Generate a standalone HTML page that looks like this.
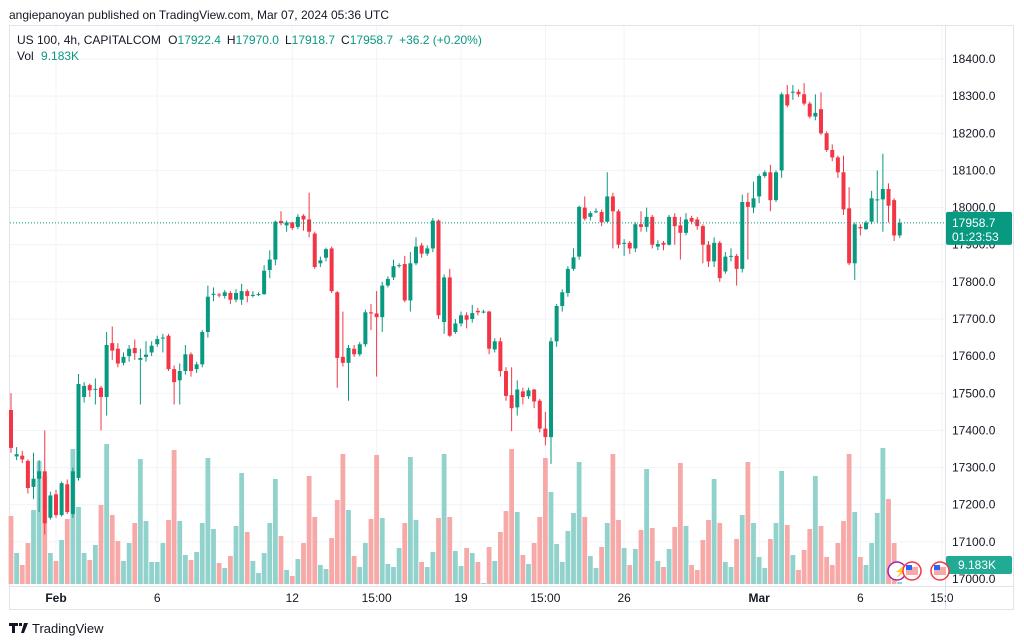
<!DOCTYPE html>
<html><head><meta charset="utf-8"><style>
body{margin:0;width:1024px;height:643px;background:#fff;overflow:hidden;font-family:"Liberation Sans",sans-serif}
</style></head><body>
<svg id="c" width="1024" height="643" xmlns="http://www.w3.org/2000/svg" style="position:absolute;left:0;top:0">
<text x="9" y="19" font-size="12" fill="#131722">angiepanoyan published on TradingView.com, Mar 07, 2024 05:36 UTC</text>
<rect x="9.5" y="25.5" width="1004" height="584" fill="none" stroke="#e0e3eb"/>
<g id="grid"></g>
<g id="vol"></g>
<g id="candles"></g>
<g id="axis"></g>
<g id="taxis"></g>
<text x="17" y="44" font-size="12" fill="#131722">US 100, 4h, CAPITALCOM <tspan dx="4">O</tspan><tspan fill="#089981">17922.4</tspan><tspan dx="6">H</tspan><tspan fill="#089981">17970.0</tspan><tspan dx="6">L</tspan><tspan fill="#089981">17918.7</tspan><tspan dx="6">C</tspan><tspan fill="#089981">17958.7</tspan><tspan dx="6" fill="#089981">+36.2 (+0.20%)</tspan></text>
<text x="17" y="60" font-size="12" fill="#131722">Vol <tspan dx="4" fill="#089981">9.183K</tspan></text>
<g><path d="M9 623h9v3h-3v7h-3v-7h-3z M19 623h3v3h-3z M24 623h4l-4 10h-3z" fill="#131722"/><text x="32" y="633" font-size="13" fill="#131722">TradingView</text></g>
</svg>
<script>
const opens=[17455,17330,17332,17318,17248,17270,17290,17165,17228,17172,17255,17175,17272,17490,17522,17510,17515,17490,17635,17620,17582,17600,17622,17590,17598,17610,17632,17650,17655,17565,17535,17560,17605,17565,17578,17665,17765,17766,17762,17770,17752,
17752,17775,17762,17765,17767,17832,17860,17964,17952,17960,17948,17978,17968,17930,17850,17865,17890,17772,17598,17582,17620,17605,17632,17718,17715,17705,17790,17812,17845,17848,17750,17850,17898,17876,17890,17965,17692,17812,17665,17688,17710,17700,
17722,17720,17720,17618,17640,17560,17495,17462,17505,17492,17510,17480,17405,17382,17640,17735,17770,17835,17868,18000,17975,17988,17988,17962,18030,17990,17905,17905,17890,17955,17948,17975,17895,17905,17900,17975,17952,17932,17972,
17968,17950,17900,17855,17905,17828,17868,17870,17835,18015,18000,18030,18085,18095,18020,18100,18305,18310,18312,18305,18280,18245,18265,18200,18155,18135,18095,17998,17850,17948,17942,17962,18020,18022,18050,18020,17925];
const closes=[17353,17336,17322,17245,17270,17290,17150,17225,17172,17258,17180,17290,17525,17520,17508,17512,17490,17630,17615,17580,17598,17620,17608,17595,17604,17628,17646,17650,17565,17530,17560,17605,17560,17578,17665,17760,17768,17765,17772,17752,17770,
17775,17762,17765,17767,17830,17860,17962,17958,17960,17945,17975,17968,17935,17840,17858,17888,17775,17595,17582,17622,17605,17632,17718,17715,17705,17790,17808,17842,17845,17750,17850,17895,17876,17890,17965,17710,17812,17655,17688,17710,17698,17716,
17718,17720,17620,17640,17560,17493,17460,17510,17490,17508,17478,17405,17382,17640,17735,17772,17835,17866,18002,17970,17985,17990,17960,18030,17990,17900,17905,17890,17955,17948,17975,17900,17902,17900,17975,17950,17932,17968,17962,
17950,17900,17855,17905,17810,17868,17870,17835,18015,18002,18025,18085,18095,18020,18095,18305,18275,18312,18305,18280,18245,18255,18200,18155,18135,18095,17995,17850,17955,17944,17960,18025,18022,18050,18005,17925,17958.7];
const highs=[17500,17355,17345,17322,17340,17320,17400,17235,17240,17262,17268,17300,17552,17530,17526,17540,17520,17665,17680,17635,17610,17630,17645,17620,17640,17640,17655,17660,17660,17575,17580,17630,17610,17585,17670,17790,17785,17770,17778,17775,17780,
17795,17780,17775,17772,17845,17885,17965,17990,17965,17962,17982,17982,18040,17935,17868,17892,17895,17775,17720,17630,17630,17638,17725,17740,17775,17800,17815,17860,17850,17870,17880,17920,17905,17898,17972,17968,17820,17835,17700,17720,17718,17738,
17730,17725,17722,17648,17650,17570,17570,17535,17515,17515,17512,17485,17450,17650,17740,17780,17842,17890,18005,18030,17990,17998,17995,18095,18040,17995,17915,17910,17960,17990,18000,17980,17912,17910,17980,17985,17975,17985,17978,
17975,17955,17910,17920,17910,17880,17890,17875,18035,18040,18070,18090,18100,18115,18100,18310,18330,18330,18318,18335,18285,18305,18310,18205,18170,18140,18140,18055,17960,17955,17965,18045,18100,18145,18065,18025,17970];
const lows=[17340,17320,17312,17230,17215,17180,17120,17160,17165,17168,17175,17165,17265,17475,17490,17470,17400,17440,17590,17570,17575,17585,17590,17470,17585,17600,17625,17610,17560,17470,17470,17550,17545,17555,17570,17650,17748,17758,17755,17740,17745,
17738,17745,17758,17762,17765,17810,17845,17952,17935,17940,17942,17938,17920,17835,17840,17855,17770,17515,17572,17480,17598,17600,17625,17670,17545,17665,17785,17805,17838,17745,17720,17845,17865,17870,17880,17700,17660,17652,17660,17680,17675,17690,
17710,17715,17605,17610,17545,17480,17398,17440,17470,17485,17460,17395,17360,17310,17625,17720,17760,17830,17860,17965,17965,17985,17950,17960,17890,17890,17870,17875,17880,17935,17935,17890,17885,17885,17898,17900,17860,17925,17955,
17940,17850,17840,17840,17800,17822,17855,17790,17825,17860,17985,18012,18080,17990,18015,18080,18270,18290,18298,18275,18240,18235,18195,18150,18125,18080,17980,17845,17805,17925,17940,17955,17960,17935,17960,17910,17918.7];
const volumes=[68,31,19,41,74,123,108,31,23,44,65,135,77,31,24,39,79,140,69,43,23,41,61,125,63,22,22,41,64,134,63,29,24,32,61,126,55,21,16,28,58,
111,52,23,11,31,61,105,48,14,8,25,41,108,67,19,15,46,84,130,74,28,17,41,65,129,66,20,17,36,61,127,64,22,17,32,66,130,67,33,18,36,31,
22,1,37,23,52,73,135,72,29,20,41,67,126,92,40,22,53,71,122,67,28,16,37,61,130,64,36,19,35,54,115,56,23,17,35,57,121,58,19,
14,44,64,105,61,22,17,45,69,122,61,27,16,45,61,113,59,29,14,34,55,108,58,27,19,41,63,130,72,27,19,41,71,136,85,41,2];
const priceTicks=[18400,18300,18200,18100,18000,17900,17800,17700,17600,17500,17400,17300,17200,17100,17000];
const timeLabels=["Feb","6","12","15:00","19","15:00","26","Mar","6","15:0"];
const timeIndex=[8,26,50,65,80,95,109,133,151,165.5];
const lastPrice=17958.7;

const NS="http://www.w3.org/2000/svg";
function el(tag,attrs,parent,txt){const e=document.createElementNS(NS,tag);for(const k in attrs)e.setAttribute(k,attrs[k]);if(txt!==undefined)e.textContent=txt;parent.appendChild(e);return e;}
const yP=p=>59+(18400-p)*0.37143;
const xI=i=>11+i*5.625;
const yV=v=>584-v*1.0;
const G=document.getElementById('grid'),V=document.getElementById('vol'),C=document.getElementById('candles'),A=document.getElementById('axis'),T=document.getElementById('taxis');
priceTicks.forEach(p=>{
  const l=el('line',{x1:10,x2:945,y1:yP(p),y2:yP(p),stroke:'#f0f3fa'},G);
  
  
  const t=el('text',{x:952,y:yP(p)+4,'font-size':12,fill:'#131722'},A,p.toFixed(1));
  
  
});
timeLabels.forEach((s,k)=>{
  const x=xI(timeIndex[k]);
  const l=el('line',{x1:x,x2:x,y1:26,y2:586,stroke:'#f0f3fa'},G);
  
  
  const t=el('text',{x:x,y:602,'font-size':12,fill:'#131722','text-anchor':'middle','font-weight':s==='Feb'||s==='Mar'?'bold':'normal'},T,s);
  
  
});
el('line',{x1:945.5,x2:945.5,y1:26,y2:609,stroke:'#e0e3eb'},A);
el('line',{x1:10,x2:1013,y1:586.5,y2:586.5,stroke:'#e0e3eb'},A);
volumes.forEach((v,i)=>{
  const up=closes[i]>=opens[i];
  const r=el('rect',{x:xI(i)-2.4,y:yV(v),width:4.8,height:584-yV(v),fill:up?'#92d2cc':'#f7a9a7'},V);
  
  
});
opens.forEach((o,i)=>{
  const c=closes[i],up=c>=o,col=up?'#089981':'#f23645',x=xI(i);
  const w=el('line',{x1:x,x2:x,y1:yP(highs[i]),y2:yP(lows[i]),stroke:col,'stroke-width':1},C);
  
  
  const top=yP(Math.max(o,c)),bot=yP(Math.min(o,c));
  const b=el('rect',{x:x-2,y:top,width:4,height:Math.max(1,bot-top),fill:col},C);
  
  
});
const ly=yP(lastPrice);
const pl=el('line',{x1:10,x2:945,y1:ly,y2:ly,stroke:'#089981','stroke-dasharray':'1 2'},C);


const bx=el('rect',{x:946,y:ly-11,width:66,height:33,fill:'#089981',rx:2},A);


el('text',{x:952,y:ly+4,'font-size':12,fill:'#fff'},A,lastPrice.toFixed(1));
el('text',{x:952,y:ly+18,'font-size':12,fill:'#fff'},A,'01:23:53');
const vb=el('rect',{x:946,y:556,width:66,height:18,fill:'#22ab94',rx:2},A);


el('text',{x:958,y:569,'font-size':12,fill:'#fff'},A,'9.183K');
[[897,'#9c27b0'],[912,'#f23645'],[940,'#f23645']].forEach(([x,c])=>{
  const ic=el('circle',{cx:x,cy:571,r:9,fill:'#fff',stroke:c,'stroke-width':1.5},A);
  
  
  if(c!=='#9c27b0'){el('rect',{x:x-6,y:567,width:12,height:8,fill:'#f7a9a7'},A);el('rect',{x:x-6,y:565,width:6,height:5,fill:'#2962ff'},A);}
  else el('text',{x:x-3,y:575,'font-size':11,fill:c},A,'⚡');
});
</script>
</body></html>
